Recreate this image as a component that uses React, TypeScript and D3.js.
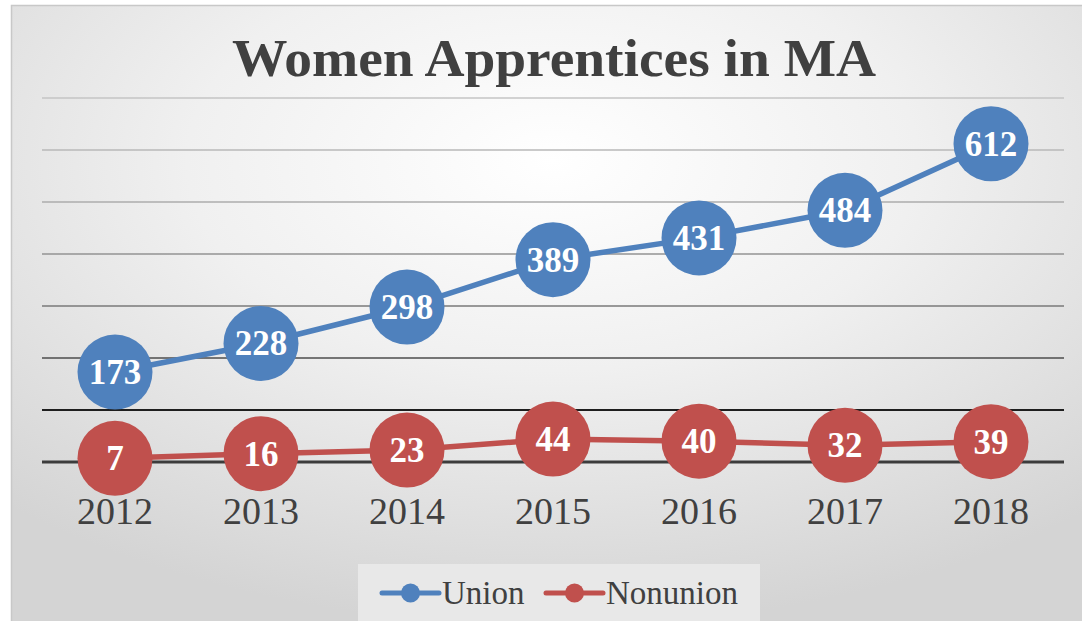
import React from "react";
import * as d3 from "d3";

const years = ["2012", "2013", "2014", "2015", "2016", "2017", "2018"];
const unionValues = [173, 228, 298, 389, 431, 484, 612];
const nonunionValues = [7, 16, 23, 44, 40, 32, 39];
const yTicks = [0, 100, 200, 300, 400, 500, 600, 700];
const seriesNames = ["Union", "Nonunion"];
const seriesColors = ["#4f81bd", "#c0504d"];

const W = 1082;
const H = 621;

export default function App() {
  const x = d3.scaleBand<string>().domain(years).range([42, 1064]);
  const y = d3.scaleLinear().domain([0, 700]).range([462, 98]);
  const cx = (yr: string) => (x(yr) as number) + x.bandwidth() / 2;
  const gridColor = d3
    .scaleLinear<string>()
    .domain([700, 500, 300, 100])
    .range(["#c4c4c4", "#acacac", "#7a7a7a", "#1e1e1e"]);

  const series = [unionValues, nonunionValues];
  const line = d3
    .line<number>()
    .x((_, i) => cx(years[i]))
    .y((v) => y(v));

  return (
    <div style={{ position: "absolute", left: 0, top: 0 }}>
      <svg width={W} height={H} style={{ display: "block" }}>
        <defs>
          <radialGradient id="bg" cx="50%" cy="25%" r="75%" gradientUnits="objectBoundingBox">
            <stop offset="0%" stopColor="#ffffff" />
            <stop offset="45%" stopColor="#f0f0f0" />
            <stop offset="100%" stopColor="#d4d4d4" />
          </radialGradient>
        </defs>
        <rect x={0} y={0} width={W} height={H} fill="#ffffff" />
        <rect x={11.5} y={5.5} width={W} height={H} fill="url(#bg)" stroke="#c8c8c8" strokeWidth={1.5} />
        <text
          x={554}
          y={76}
          textAnchor="middle"
          fontFamily="'Liberation Serif', serif"
          fontWeight="bold"
          fontSize={53}
          fill="#404040"
          textLength={644}
          lengthAdjust="spacingAndGlyphs"
        >
          Women Apprentices in MA
        </text>
        {yTicks.slice(1).map((t) => (
          <line
            key={t}
            x1={42}
            x2={1064}
            y1={y(t)}
            y2={y(t)}
            stroke={gridColor(t)}
            strokeWidth={t === 100 ? 2 : 1.6}
          />
        ))}
        <line x1={42} x2={1064} y1={y(0)} y2={y(0)} stroke="#3c3c3c" strokeWidth={3.2} />
        {years.map((yr) => (
          <text
            key={yr}
            x={cx(yr)}
            y={524}
            textAnchor="middle"
            fontFamily="'Liberation Serif', serif"
            fontSize={38}
            fill="#404040"
          >
            {yr}
          </text>
        ))}
        {series.map((vals, si) => (
          <g key={si}>
            <path d={line(vals) || ""} fill="none" stroke={seriesColors[si]} strokeWidth={5.5} />
            {vals.map((v, i) => (
              <g key={i}>
                <circle cx={cx(years[i])} cy={y(v)} r={37.5} fill={seriesColors[si]} />
                <text
                  x={cx(years[i])}
                  y={y(v)}
                  dy="0.34em"
                  textAnchor="middle"
                  fontFamily="'Liberation Serif', serif"
                  fontWeight="bold"
                  fontSize={35}
                  fill="#ffffff"
                >
                  {v}
                </text>
              </g>
            ))}
          </g>
        ))}
        <rect x={358} y={564} width={402} height={60} fill="#e8e8e8" />
        {seriesNames.map((name, i) => {
          const lx = i === 0 ? 382 : 546;
          return (
            <g key={name}>
              <line x1={lx} x2={lx + 57} y1={593} y2={593} stroke={seriesColors[i]} strokeWidth={5} strokeLinecap="round" />
              <circle cx={lx + 28.5} cy={593} r={9.5} fill={seriesColors[i]} />
              <text
                x={lx + 60}
                y={604}
                fontFamily="'Liberation Serif', serif"
                fontSize={33}
                fill="#404040"
              >
                {name}
              </text>
            </g>
          );
        })}
      </svg>
    </div>
  );
}
